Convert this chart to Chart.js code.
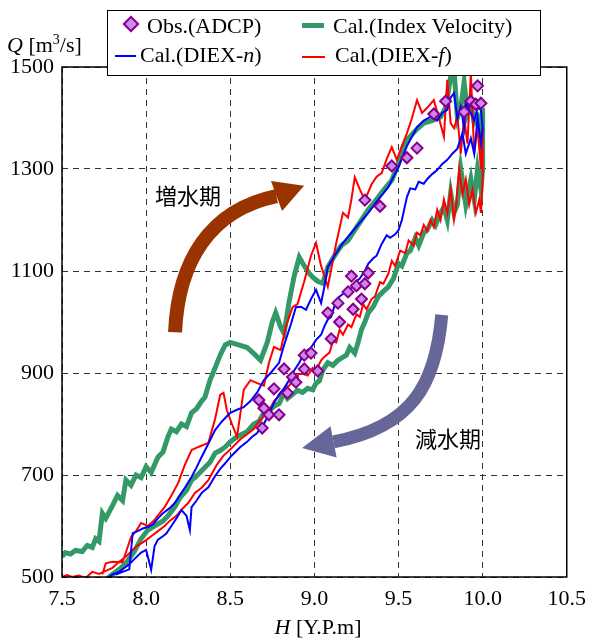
<!DOCTYPE html>
<html>
<head>
<meta charset="utf-8">
<script src="https://cdn.jsdelivr.net/npm/chart.js@4.4.0/dist/chart.umd.min.js"></script>
<style>
  body { margin: 0; background: #fff; }
  #wrap { position: relative; width: 595px; height: 640px; }
  #chartCanvas { position: absolute; left: 0; top: 0; }
  .txt { position: absolute; font-family: "Liberation Serif", "Times New Roman", serif; font-size: 22px; line-height: 22px; color: #000; white-space: nowrap; }
  .jp { position: absolute; font-family: "Noto Sans CJK JP", sans-serif; font-size: 22px; line-height: 22px; color: #000; white-space: nowrap; transform: translate(-50%, -50%); }
  #legend { position: absolute; left: 107px; top: 10px; width: 432px; height: 64px; border: 1px solid #000; background: #fff; }
  .swatch { position: absolute; }
</style>
</head>
<body>
<div id="wrap">
  <canvas id="chartCanvas" width="595" height="640"></canvas>
  <div class="txt" style="left:7px; top:34px;"><i>Q</i> [m<sup style="font-size:14px; line-height:0;">3</sup>/s]</div>
  <div class="txt" style="left:318px; top:616px; transform:translateX(-50%);"><i>H</i> [Y.P.m]</div>
  <div class="jp" style="left:188px; top:194px;">増水期</div>
  <div class="jp" style="left:448px; top:437px;">減水期</div>
  <div id="legend">
    <div class="swatch" style="left:17px; top:7px; width:8px; height:8px; background:#cc88ee; border:2px solid #880088; transform:rotate(45deg);"></div>
    <div class="txt" style="left:39px; top:4px;">Obs.(ADCP)</div>
    <div class="swatch" style="left:194px; top:12px; width:22px; height:5px; background:#339966;"></div>
    <div class="txt" style="left:225px; top:4px;">Cal.(Index Velocity)</div>
    <div class="swatch" style="left:7px; top:44px; width:21px; height:2px; background:#0000ff;"></div>
    <div class="txt" style="left:32px; top:33px;">Cal.(DIEX-<i>n</i>)</div>
    <div class="swatch" style="left:194px; top:45px; width:23px; height:2px; background:#ff0000;"></div>
    <div class="txt" style="left:227px; top:33px;">Cal.(DIEX-<i>f</i>)</div>
  </div>
</div>
<script>
// tick labels
const xTicks = [7.5, 8.0, 8.5, 9.0, 9.5, 10.0, 10.5];
const yTicks = [500, 700, 900, 1100, 1300, 1500];

// Obs.(ADCP)
const obsH = [9.46, 9.30, 9.39, 9.22, 9.32, 9.25, 9.30, 9.20, 9.28, 9.14, 9.23, 9.08, 9.15, 9.10,
  8.94, 8.98, 8.82, 8.94, 9.02, 8.87, 8.89, 8.76, 8.84, 8.67, 8.70, 8.73, 8.79, 8.69,
  9.55, 9.61, 9.71, 9.78, 9.89, 9.93, 9.97, 9.96, 9.99];
const obsQ = [1306, 1239, 1227, 1090, 1096, 1071, 1075, 1059, 1045, 1037, 1025, 1018, 1000, 967,
  935, 939, 908, 908, 904, 892, 882, 869, 861, 847, 831, 818, 818, 792,
  1322, 1341, 1408, 1433, 1412, 1433, 1463, 1427, 1429];

// Cal.(Index Velocity): rising limb then falling limb
const greenH = [7.50, 7.52, 7.55, 7.58, 7.62, 7.65, 7.68, 7.70, 7.72, 7.74, 7.76, 7.80, 7.83, 7.86, 7.88, 7.91, 7.94, 7.97,
  8.00, 8.03, 8.07, 8.10, 8.13, 8.15, 8.18, 8.21, 8.24, 8.27, 8.30, 8.33, 8.35, 8.38, 8.41, 8.44, 8.47, 8.50,
  8.55, 8.60, 8.65, 8.68, 8.72, 8.75, 8.77, 8.80, 8.82, 8.85, 8.88, 8.91, 8.94, 8.97, 8.99, 9.02, 9.05, 9.08,
  9.12, 9.16, 9.20, 9.24, 9.28, 9.32, 9.35, 9.38, 9.42, 9.46, 9.50, 9.53, 9.55, 9.60, 9.65, 9.70, 9.75, 9.78,
  9.81, 9.83, 9.85, 9.87, 9.89, 9.91, 9.93, 9.95, 9.97, 9.99, 10.00,
  10.00, 9.99, 9.97, 9.95, 9.93, 9.90, 9.87, 9.85, 9.83, 9.81, 9.79, 9.77, 9.75, 9.72, 9.70, 9.67, 9.65,
  9.62, 9.60, 9.57, 9.55, 9.52, 9.50, 9.47, 9.44, 9.41, 9.38, 9.35, 9.32, 9.30, 9.28, 9.26, 9.24, 9.21,
  9.19, 9.17, 9.14, 9.11, 9.08, 9.05, 9.03, 9.01, 8.99, 8.96, 8.93, 8.90, 8.87, 8.84, 8.82, 8.79, 8.76,
  8.73, 8.70, 8.67, 8.64, 8.60, 8.57, 8.54, 8.50, 8.47, 8.44, 8.41, 8.38, 8.35, 8.32, 8.29, 8.27, 8.24,
  8.20, 8.17, 8.13, 8.10, 8.05, 8.01, 7.97, 7.93, 7.88, 7.84, 7.78, 7.75];
const greenQ = [540, 548, 545, 552, 550, 562, 558, 575, 570, 625, 615, 640, 660, 650, 690, 680, 700, 695,
  716, 705, 735, 745, 775, 790, 785, 800, 795, 822, 830, 845, 853, 886, 910, 935, 955, 960,
  955, 950, 935, 925, 960, 1000, 1018, 990, 978, 1040, 1090, 1127, 1110, 1095, 1088, 1080, 1076, 1108,
  1130, 1150, 1160, 1180, 1200, 1220, 1232, 1245, 1262, 1278, 1310, 1345, 1357, 1375, 1390, 1395, 1402, 1420,
  1480, 1495, 1400, 1420, 1470, 1410, 1430, 1390, 1400, 1360, 1420,
  1300, 1260, 1300, 1240, 1280, 1230, 1300, 1230, 1214, 1253, 1200, 1225, 1214, 1190, 1200, 1180, 1175,
  1150, 1165, 1140, 1135, 1110, 1115, 1085, 1069, 1060, 1050, 1030, 1018, 1000, 985, 960, 939, 950,
  935, 931, 925, 915, 920, 906, 885, 880, 867, 870, 862, 866, 858, 850, 861, 840, 835,
  825, 822, 805, 800, 785, 780, 775, 765, 755, 748, 743, 725, 715, 705, 695, 690, 670,
  655, 637, 620, 610, 600, 592, 575, 550, 527, 515, 500, 490];

// Cal.(DIEX-n)
const blueH = [7.82, 7.86, 7.90, 7.92, 7.95, 7.98, 8.01, 8.04, 8.07, 8.10, 8.14, 8.17, 8.20, 8.23, 8.27, 8.30,
  8.32, 8.36, 8.41, 8.45, 8.50, 8.54, 8.58, 8.62, 8.66, 8.70, 8.74, 8.79, 8.82, 8.86, 8.89, 8.92, 8.95,
  8.98, 9.01, 9.04, 9.06, 9.08, 9.12, 9.17, 9.22, 9.27, 9.32, 9.38, 9.44, 9.50, 9.55, 9.61, 9.65, 9.69,
  9.73, 9.76, 9.79, 9.81, 9.83, 9.85, 9.87, 9.89, 9.90, 9.93, 9.95, 9.97, 9.99, 10.00,
  9.99, 9.97, 9.95, 9.93, 9.90, 9.88, 9.85, 9.82, 9.79, 9.76, 9.73, 9.70, 9.67, 9.65, 9.62, 9.60, 9.57,
  9.55, 9.52, 9.50, 9.48, 9.45, 9.43, 9.40, 9.37, 9.35, 9.32, 9.30, 9.27, 9.25, 9.23, 9.20, 9.17, 9.15,
  9.13, 9.10, 9.08, 9.06, 9.04, 9.01, 8.98, 8.96, 8.94, 8.91, 8.88, 8.86, 8.85, 8.82, 8.79, 8.76, 8.73,
  8.70, 8.68, 8.66, 8.63, 8.60, 8.56, 8.53, 8.50, 8.47, 8.44, 8.41, 8.37, 8.33, 8.30, 8.27, 8.26, 8.24,
  8.21, 8.18, 8.15, 8.12, 8.10, 8.07, 8.05, 8.03, 8.00, 7.97, 7.93, 7.90, 7.88, 7.84, 7.80, 7.78, 7.75];
const blueQ = [505, 510, 515, 586, 590, 595, 598, 603, 615, 625, 635, 645, 660, 675, 696, 715,
  729, 755, 788, 805, 822, 828, 833, 845, 862, 886, 900, 920, 955, 995, 1029, 1030, 1024,
  1045, 1063, 1037, 1070, 1108, 1130, 1155, 1175, 1195, 1214, 1240, 1265, 1304, 1345, 1382, 1395, 1402,
  1395, 1410, 1416, 1440, 1449, 1400, 1422, 1380, 1429, 1410, 1395, 1420, 1416, 1380,
  1350, 1400, 1330, 1360, 1330, 1370, 1340, 1330, 1318, 1310, 1298, 1290, 1280, 1271, 1275, 1260, 1262,
  1245, 1200, 1180, 1172, 1165, 1170, 1153, 1130, 1125, 1114, 1100, 1085, 1080, 1069, 1062, 1055, 1050,
  1043, 1010, 1005, 992, 975, 965, 950, 945, 939, 920, 905, 892, 886, 870, 858, 841, 820,
  800, 795, 782, 775, 765, 755, 745, 735, 723, 712, 698, 676, 665, 650, 637, 592, 620,
  631, 615, 600, 585, 580, 573, 560, 514, 553, 548, 535, 525, 520, 510, 505, 500, 495];

// Cal.(DIEX-f)
const redH = [7.74, 7.76, 7.80, 7.86, 7.91, 7.94, 7.97, 8.01, 8.05, 8.08, 8.11, 8.15, 8.19, 8.23, 8.27, 8.31,
  8.37, 8.41, 8.44, 8.46, 8.48, 8.51, 8.54, 8.56, 8.58, 8.62, 8.66, 8.70, 8.73, 8.76, 8.80, 8.83, 8.87,
  8.90, 8.94, 8.98, 9.01, 9.04, 9.08, 9.11, 9.13, 9.17, 9.20, 9.22, 9.24, 9.27, 9.30, 9.34, 9.37, 9.40,
  9.43, 9.46, 9.49, 9.52, 9.55, 9.58, 9.61, 9.64, 9.67, 9.71, 9.74, 9.77, 9.79, 9.81, 9.83, 9.85, 9.87,
  9.89, 9.91, 9.93, 9.95, 9.97, 9.99, 10.00,
  10.00, 9.99, 9.98, 9.96, 9.94, 9.92, 9.90, 9.88, 9.86, 9.84, 9.83, 9.81, 9.79, 9.77, 9.75, 9.73, 9.71,
  9.69, 9.67, 9.65, 9.63, 9.61, 9.59, 9.56, 9.54, 9.51, 9.48, 9.46, 9.44, 9.41, 9.39, 9.36, 9.34, 9.31,
  9.29, 9.27, 9.25, 9.22, 9.20, 9.17, 9.15, 9.13, 9.11, 9.09, 9.06, 9.04, 9.01, 8.99, 8.96, 8.94, 8.91,
  8.88, 8.85, 8.82, 8.79, 8.76, 8.73, 8.70, 8.67, 8.64, 8.60, 8.56, 8.53, 8.50, 8.46, 8.42, 8.37, 8.33,
  8.29, 8.25, 8.21, 8.18, 8.14, 8.11, 8.07, 8.03, 7.99, 7.95, 7.92, 7.88, 7.84, 7.80, 7.76, 7.72, 7.68,
  7.64, 7.60, 7.56, 7.53, 7.50];
const redQ = [505, 527, 530, 529, 578, 590, 606, 600, 612, 625, 637, 660, 684, 720, 749, 755,
  763, 810, 857, 861, 827, 800, 775, 820, 867, 886, 880, 875, 920, 951, 945, 990, 1029,
  1035, 1080, 1130, 1155, 1110, 1069, 1120, 1155, 1214, 1205, 1240, 1284, 1260, 1239, 1270, 1285, 1292,
  1320, 1343, 1318, 1345, 1370, 1400, 1435, 1410, 1420, 1435, 1400, 1363, 1475, 1390, 1380, 1402, 1330,
  1400, 1350, 1488, 1330, 1382, 1300, 1380,
  1280, 1214, 1240, 1214, 1260, 1230, 1280, 1250, 1300, 1220, 1200, 1260, 1213, 1240, 1200, 1220, 1186,
  1200, 1178, 1190, 1170, 1175, 1150, 1160, 1135, 1140, 1110, 1120, 1095, 1075, 1078, 1050, 1045, 1025,
  1035, 1010, 1015, 990, 995, 975, 985, 960, 962, 940, 932, 925, 905, 910, 895, 898, 898,
  890, 875, 870, 855, 845, 825, 815, 805, 790, 780, 770, 760, 750, 738, 720, 690, 675,
  665, 645, 632, 620, 610, 600, 590, 580, 570, 562, 553, 540, 530, 518, 512, 506, 510,
  498, 503, 500, 504, 500];

// annotation arrows, in data units (H, Q)
const riseArrow = { from: [8.172, 980], c1: [8.19, 1118], c2: [8.377, 1220], to: [8.775, 1247], tip: [8.939, 1267] };
const fallArrow = { from: [9.757, 1014], c1: [9.722, 877], c2: [9.58, 794], to: [9.114, 765], tip: [8.927, 753] };

function pairs(hs, qs) {
  return hs.map((h, i) => ({ x: h, y: qs[i] }));
}

const serif = "'Liberation Serif', 'Times New Roman', serif";

const arrowPlugin = {
  id: 'arrows',
  afterDatasetsDraw(chart) {
    const ctx = chart.ctx;
    const xs = chart.scales.x, ys = chart.scales.y;
    const p = v => [xs.getPixelForValue(v[0]), ys.getPixelForValue(v[1])];

    function drawArrow(a, color, width, headW) {
      const s = p(a.from), c1 = p(a.c1), c2 = p(a.c2), e = p(a.to), t = p(a.tip);
      ctx.save();
      ctx.strokeStyle = color;
      ctx.lineWidth = width;
      ctx.lineCap = 'butt';
      ctx.beginPath();
      ctx.moveTo(s[0], s[1]);
      ctx.bezierCurveTo(c1[0], c1[1], c2[0], c2[1], e[0], e[1]);
      ctx.stroke();
      const dx = t[0] - e[0], dy = t[1] - e[1];
      const len = Math.hypot(dx, dy);
      const nx = -dy / len, ny = dx / len;
      ctx.fillStyle = color;
      ctx.beginPath();
      ctx.moveTo(t[0], t[1]);
      ctx.lineTo(e[0] + nx * headW / 2, e[1] + ny * headW / 2);
      ctx.lineTo(e[0] - nx * headW / 2, e[1] - ny * headW / 2);
      ctx.closePath();
      ctx.fill();
      ctx.restore();
    }

    drawArrow(riseArrow, '#993300', 14, 32);
    drawArrow(fallArrow, '#666699', 13, 32);

    // solid frame round the plot
    const a = chart.chartArea;
    ctx.save();
    ctx.strokeStyle = '#000';
    ctx.lineWidth = 1.5;
    ctx.strokeRect(a.left, a.top, a.right - a.left, a.bottom - a.top);
    ctx.restore();
  }
};

function drawChart() {
  const ctx = document.getElementById('chartCanvas').getContext('2d');
  new Chart(ctx, {
    type: 'line',
    data: {
      datasets: [
        { label: 'Obs.(ADCP)', data: pairs(obsH, obsQ), showLine: false, pointStyle: 'rectRot',
          pointRadius: 5.5, backgroundColor: '#cc88ee', borderColor: '#880088', pointBorderWidth: 2 },
        { label: 'Cal.(DIEX-n)', data: pairs(blueH, blueQ), borderColor: '#0000ff', borderWidth: 2, pointRadius: 0, fill: false },
        { label: 'Cal.(DIEX-f)', data: pairs(redH, redQ), borderColor: '#ff0000', borderWidth: 2, pointRadius: 0, fill: false },
        { label: 'Cal.(Index Velocity)', data: pairs(greenH, greenQ), borderColor: '#339966', borderWidth: 5, pointRadius: 0, fill: false }
      ]
    },
    options: {
      responsive: false,
      animation: false,
      layout: { padding: { top: 67, right: 20, left: 0, bottom: 0 } },
      plugins: { legend: { display: false }, tooltip: { enabled: false } },
      elements: { line: { tension: 0 } },
      scales: {
        x: {
          type: 'linear', min: 7.5, max: 10.5,
          afterBuildTicks: s => { s.ticks = xTicks.map(v => ({ value: v })); },
          afterFit: s => { s.height = 63; },
          ticks: { callback: v => v.toFixed(1), font: { family: serif, size: 22 }, color: '#000', padding: 9, maxRotation: 0 },
          grid: { color: '#333', lineWidth: 1, drawTicks: false },
          border: { display: false, dash: [6, 5] }
        },
        y: {
          type: 'linear', min: 500, max: 1500,
          afterBuildTicks: s => { s.ticks = yTicks.map(v => ({ value: v })); },
          afterFit: s => { s.width = 62; },
          ticks: { callback: v => String(v), font: { family: serif, size: 22 }, color: '#000', padding: 8 },
          grid: { color: '#333', lineWidth: 1, drawTicks: false },
          border: { display: false, dash: [6, 5] }
        }
      }
    },
    plugins: [arrowPlugin]
  });
}

// canvas text needs the serif face loaded first
document.fonts.load("22px 'Liberation Serif'").then(drawChart, drawChart);
</script>
</body>
</html>
